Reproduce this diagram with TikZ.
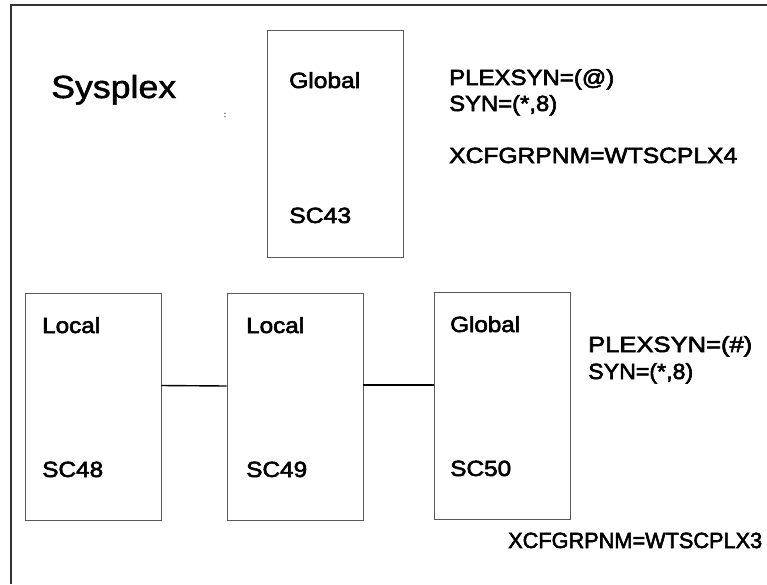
\documentclass[tikz,border=0pt]{standalone}
\usepackage{fontspec}
\setmainfont{Liberation Sans}[FakeBold=2.5]
\newfontfamily\titlefont{Liberation Sans}[FakeBold=1.5]
\usepackage{graphicx}
\usepackage{tikz}
\usetikzlibrary{positioning}

% stretch a text to a given width, keeping its height
\newcommand{\fixw}[2]{\resizebox{#1}{\height}{#2}}

\begin{document}
\begin{tikzpicture}[x=1pt,y=-1pt,every node/.style={inner sep=0pt},
    sysbox/.style={draw=black!65,line width=0.8pt,minimum width=136pt,minimum height=227pt},
    lbl/.style={anchor=base west,font=\fontsize{22}{26}\selectfont},
    link/.style={line width=1.4pt,black}]
    \useasboundingbox (0,0) rectangle (767,584);
    \draw[line width=1.6pt,black!80] (767,5) -- (11,5) -- (11,584);

    \node[font=\titlefont\fontsize{32}{38}\selectfont,anchor=base west] (title) at (51,98) {\fixw{125pt}{Sysplex}};
    \node[font=\fontsize{8}{9}\selectfont] (dot) at (225,115) {:};

    % upper sysplex
    \node[sysbox] (sc43) at (335,143.5) {};
    \node[lbl] (g43) at (289,88) {\fixw{71pt}{Global}};
    \node[lbl] (n43) at (289,223) {\fixw{62pt}{SC43}};
    \node[lbl] (p4) at (449,85) {\fixw{165pt}{PLEXSYN=(@)}};
    \node[lbl] (s4) at (449,111) {\fixw{108pt}{SYN=(*,8)}};
    \node[lbl] (x4) at (449,163) {\fixw{288pt}{XCFGRPNM=WTSCPLX4}};

    % lower sysplex
    \node[sysbox] (sc48) at (93,406.5) {};
    \node[sysbox] (sc49) at (295,407) {};
    \node[sysbox] (sc50) at (502,406) {};
    \node[lbl] (l48) at (42,333) {\fixw{58pt}{Local}};
    \node[lbl] (n48) at (42,477) {\fixw{61pt}{SC48}};
    \node[lbl] (l49) at (246,333) {\fixw{58pt}{Local}};
    \node[lbl] (n49) at (246,477) {\fixw{61pt}{SC49}};
    \node[lbl] (g50) at (450,332) {\fixw{70pt}{Global}};
    \node[lbl] (n50) at (450,476) {\fixw{61pt}{SC50}};
    \node[lbl] (p3) at (588,352) {\fixw{164pt}{PLEXSYN=(\#)}};
    \node[lbl] (s3) at (588,379) {\fixw{105pt}{SYN=(*,8)}};
    \node[lbl] (x3) at (508,548) {\fixw{254pt}{XCFGRPNM=WTSCPLX3}};

    \path[link] ([yshift=21pt]sc48.east) edge ([yshift=21pt]sc49.west);
    \path[link] ([yshift=22pt]sc49.east) edge ([yshift=21pt]sc50.west);

\end{tikzpicture}
\end{document}
